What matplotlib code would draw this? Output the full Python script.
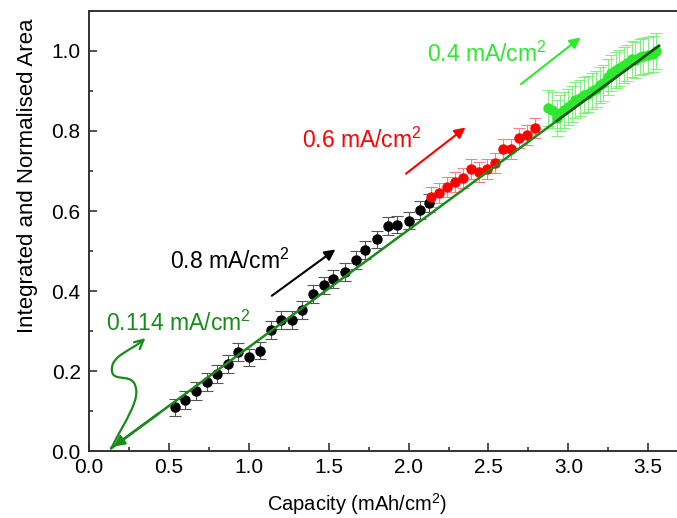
import matplotlib
matplotlib.use('Agg')
import matplotlib.pyplot as plt
import numpy as np
from matplotlib.path import Path
from matplotlib.patches import FancyArrowPatch
from matplotlib.ticker import MultipleLocator, FormatStrFormatter

plt.rcParams['font.family'] = ['Liberation Sans', 'DejaVu Sans']
plt.rcParams['mathtext.default'] = 'regular'

# 0.8 mA/cm2 (black)
cap_08 = [0.54, 0.60, 0.67, 0.74, 0.80, 0.87, 0.93, 1.00, 1.07, 1.14, 1.20, 1.27, 1.33,
          1.40, 1.47, 1.53, 1.60, 1.67, 1.73, 1.80, 1.87, 1.93, 2.00, 2.07, 2.13]
area_08 = [0.109, 0.128, 0.150, 0.173, 0.193, 0.217, 0.247, 0.234, 0.251, 0.303, 0.328, 0.328, 0.353,
           0.393, 0.414, 0.430, 0.447, 0.478, 0.503, 0.529, 0.563, 0.566, 0.576, 0.602, 0.620]
err_08 = 0.022

# 0.6 mA/cm2 (red)
cap_06 = [2.14, 2.19, 2.24, 2.29, 2.34, 2.39, 2.44, 2.49, 2.54, 2.59, 2.64, 2.69, 2.74, 2.79]
area_06 = [0.635, 0.646, 0.660, 0.672, 0.682, 0.704, 0.698, 0.705, 0.721, 0.754, 0.754, 0.782, 0.790, 0.808]
err_06 = 0.025

# 0.4 mA/cm2 (light green)
cap_04 = [2.87, 2.90, 2.93, 2.95, 2.97, 3.00, 3.02, 3.04, 3.07, 3.10, 3.12, 3.15, 3.17, 3.20,
          3.22, 3.25, 3.27, 3.30, 3.32, 3.35, 3.37, 3.40, 3.42, 3.45, 3.47, 3.50, 3.53, 3.55]
area_04 = [0.857, 0.852, 0.832, 0.845, 0.853, 0.861, 0.868, 0.877, 0.882, 0.890, 0.893, 0.900, 0.906, 0.915,
           0.921, 0.935, 0.946, 0.952, 0.958, 0.965, 0.970, 0.980, 0.978, 0.985, 0.988, 0.990, 0.993, 1.000]
err_04 = 0.045

# linear fit (0.114 mA/cm2 reference line)
fit_slope = 0.2935
fit_icpt = -0.034
fit_x = [0.139, 3.567]
fit_x_dark = [2.93, 3.567]

fig = plt.figure(figsize=(6.77, 5.18), dpi=100)
ax = fig.add_axes([0.1315, 0.1293, 0.885, 0.8495])

c_dark = '#1a8a1a'
c_lgreen = '#2ee82e'

ax.errorbar(cap_08, area_08, yerr=err_08, fmt='o', color='black', ms=6.5,
            ecolor='#555555', elinewidth=0.8, capsize=4, capthick=0.8, zorder=3)
ax.errorbar(cap_06, area_06, yerr=err_06, fmt='o', color='#ff0000', ms=6.5,
            ecolor='#ff8080', elinewidth=0.8, capsize=4, capthick=0.8, zorder=3)
ax.errorbar(cap_04, area_04, yerr=err_04, fmt='o', color=c_lgreen, ms=6.5,
            ecolor='#80f080', elinewidth=0.8, capsize=4, capthick=0.8, zorder=3)

fx = np.array(fit_x)
ax.plot(fx, fit_slope * fx + fit_icpt, color=c_dark, lw=1.8, zorder=4)
fxd = np.array(fit_x_dark)
ax.plot(fxd, fit_slope * fxd + fit_icpt, color='#1f4f1f', lw=1.8, zorder=5)
ax.annotate('', xy=(fit_x[0], fit_slope * fit_x[0] + fit_icpt),
            xytext=(0.45, fit_slope * 0.45 + fit_icpt),
            arrowprops=dict(arrowstyle='-|>', color=c_dark, lw=1.8, mutation_scale=16), zorder=4)

# curvy arrow for the 0.114 label
verts = [(0.139, 0.007), (0.23, 0.08), (0.33, 0.13), (0.285, 0.168),
         (0.25, 0.195), (0.14, 0.17), (0.143, 0.205),
         (0.145, 0.24), (0.26, 0.25), (0.353, 0.282)]
codes = [Path.MOVETO] + [Path.CURVE4] * 9
curvy = FancyArrowPatch(path=Path(verts, codes), arrowstyle='->', color=c_dark,
                        lw=1.6, mutation_scale=16, transform=ax.transData)
ax.add_patch(curvy)

# rate arrows
ax.annotate('', xy=(1.556, 0.508), xytext=(1.13, 0.384),
            arrowprops=dict(arrowstyle='-|>', color='black', lw=1.5, mutation_scale=16))
ax.annotate('', xy=(2.37, 0.813), xytext=(1.97, 0.689),
            arrowprops=dict(arrowstyle='-|>', color='#ff0000', lw=1.5, mutation_scale=16))
ax.annotate('', xy=(3.09, 1.038), xytext=(2.69, 0.913),
            arrowprops=dict(arrowstyle='-|>', color=c_lgreen, lw=1.5, mutation_scale=16))

ax.text(0.504, 0.474, '0.8 mA/cm$^2$', color='black', fontsize=16.5, va='center')
ax.text(1.33, 0.777, '0.6 mA/cm$^2$', color='#ff0000', fontsize=16.5, va='center')
ax.text(2.117, 0.992, '0.4 mA/cm$^2$', color=c_lgreen, fontsize=16.5, va='center')
ax.text(0.106, 0.320, '0.114 mA/cm$^2$', color=c_dark, fontsize=16.5, va='center')

ax.set_xlim(0, 3.75)
ax.set_ylim(0, 1.1)
ax.xaxis.set_major_locator(MultipleLocator(0.5))
ax.xaxis.set_minor_locator(MultipleLocator(0.25))
ax.yaxis.set_major_locator(MultipleLocator(0.2))
ax.yaxis.set_minor_locator(MultipleLocator(0.1))
ax.xaxis.set_major_formatter(FormatStrFormatter('%.1f'))
ax.yaxis.set_major_formatter(FormatStrFormatter('%.1f'))
ax.tick_params(which='both', direction='in', colors='#333333', labelcolor='black',
               labelsize=15, width=1.2)
ax.tick_params(which='major', length=6)
ax.tick_params(which='minor', length=3)
ax.tick_params(axis='x', pad=5)
ax.tick_params(axis='y', pad=6)

for s in ['left', 'bottom', 'top']:
    ax.spines[s].set_color('#333333')
    ax.spines[s].set_linewidth(1.4)
ax.spines['right'].set_visible(False)

ax.set_xlabel('Capacity (mAh/cm$^2$)', fontsize=14.5)
ax.set_ylabel('Integrated and Normalised Area', fontsize=16)
ax.xaxis.set_label_coords(0.447, -0.092)
ax.yaxis.set_label_coords(-0.085, 0.625)

fig.savefig('out.png', dpi=100)
